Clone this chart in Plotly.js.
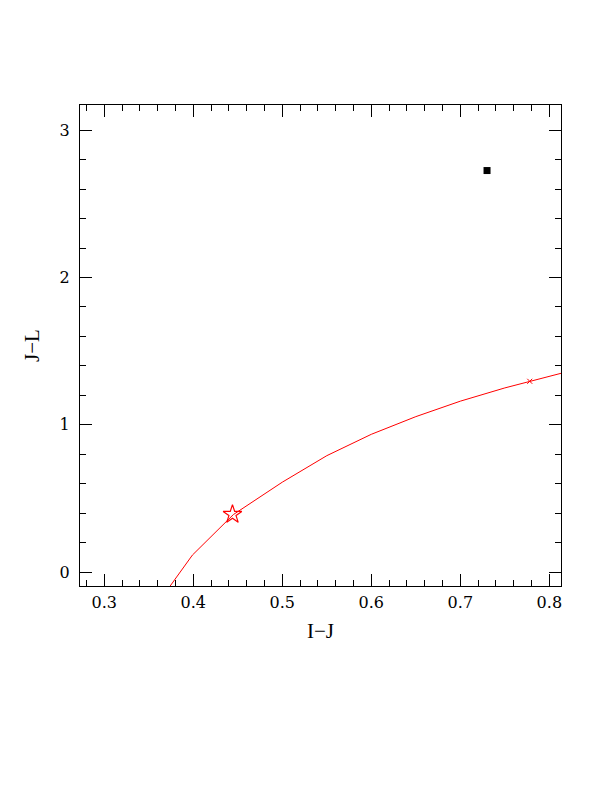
<!DOCTYPE html>
<html>
<head>
<meta charset="utf-8">
<script src="https://cdn.plot.ly/plotly-3.0.1.min.js"></script>
<style>html,body{margin:0;padding:0;background:#fff;}#plot{width:612px;height:792px;}</style>
</head>
<body>
<div id="plot"></div>
<script>
// Track (red curve)
const trackX = [0.374, 0.399, 0.445, 0.50, 0.55, 0.60, 0.65, 0.70, 0.75, 0.80, 0.82];
const trackY = [-0.095, 0.115, 0.39, 0.61, 0.79, 0.935, 1.055, 1.16, 1.25, 1.33, 1.36];
// Star marker
const starX = [0.444];
const starY = [0.391];
// Small cross marker
const crossX = [0.778];
const crossY = [1.295];
// Black square
const squareX = [0.730];
const squareY = [2.726];

const tickFontFamily = "'DejaVu Serif', 'Liberation Serif', serif";
const titleFontFamily = "'Liberation Serif', 'DejaVu Serif', serif";

const traces = [
  {x: trackX, y: trackY, mode: 'lines', line: {color: 'red', width: 1}, hoverinfo: 'skip'},
  {x: starX, y: starY, mode: 'markers', marker: {symbol: 'star-open', size: 14, color: 'red', line: {color: 'red', width: 1.2}}},
  {x: crossX, y: crossY, mode: 'markers', marker: {symbol: 'x-thin-open', size: 5, color: 'red', line: {color: 'red', width: 1}}},
  {x: squareX, y: squareY, mode: 'markers', marker: {symbol: 'square', size: 7, color: 'black'}}
];

const axisCommon = {
  showgrid: false, zeroline: false,
  showline: true, linecolor: 'black', linewidth: 1, mirror: 'allticks',
  ticks: 'inside', tickcolor: 'black', tickwidth: 1, ticklen: 12,
  tickfont: {family: tickFontFamily, size: 16, color: 'black'}
};

const layout = {
  width: 612, height: 792,
  paper_bgcolor: 'white', plot_bgcolor: 'white',
  showlegend: false,
  margin: {l: 80, r: 51, t: 105, b: 206},
  xaxis: Object.assign({}, axisCommon, {
    range: [0.2727, 0.8131], tick0: 0.3, dtick: 0.1, tickformat: '.1f',
    ticklabelstandoff: 2,
    minor: {ticks: 'inside', dtick: 0.02, ticklen: 6, tickcolor: 'black', tickwidth: 1},
    title: {text: 'I\u2212J', font: {family: titleFontFamily, size: 21, color: 'black'}, standoff: 12}
  }),
  yaxis: Object.assign({}, axisCommon, {
    range: [-0.095, 3.171], tick0: 0, dtick: 1,
    ticklabelstandoff: 6,
    minor: {ticks: 'inside', dtick: 0.2, ticklen: 6, tickcolor: 'black', tickwidth: 1},
    title: {text: 'J\u2212L', font: {family: titleFontFamily, size: 21, color: 'black'}, standoff: 14}
  })
};

Plotly.newPlot('plot', traces, layout, {displayModeBar: false, staticPlot: true});
</script>
</body>
</html>
